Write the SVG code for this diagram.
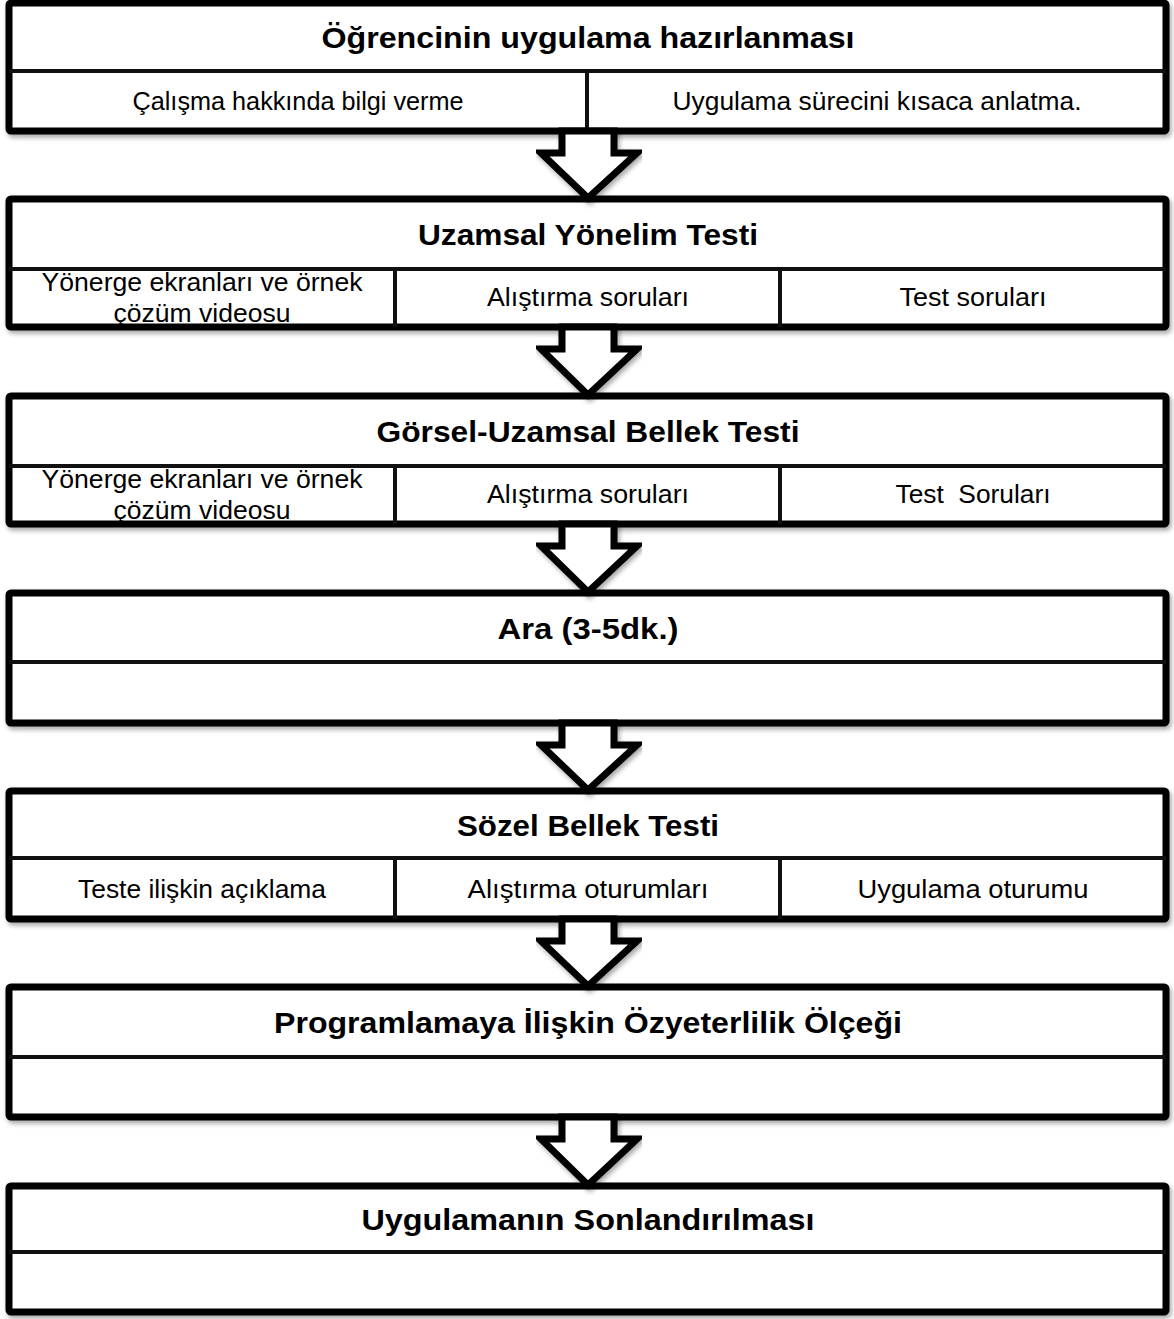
<svg xmlns="http://www.w3.org/2000/svg" width="1174" height="1319" viewBox="0 0 1174 1319">
<defs>
<filter id="sh" x="-5%" y="-5%" width="110%" height="120%">
<feDropShadow dx="2" dy="3" stdDeviation="2.5" flood-color="#000" flood-opacity="0.35"/>
</filter>
<style>
.box{fill:#fff;stroke:#000;stroke-width:7;stroke-linejoin:round;filter:url(#sh)}
.div{stroke:#111;stroke-width:4}
.arr{fill:#fff;stroke:#000;stroke-width:7;stroke-linejoin:miter;stroke-miterlimit:10;filter:url(#sh)}
.h{font-family:"Liberation Sans",Arial,sans-serif;font-weight:bold;font-size:30px;fill:#000;text-anchor:middle}
.t{font-family:"Liberation Sans",Arial,sans-serif;font-size:25px;fill:#000;text-anchor:middle}
</style>
</defs>
<rect width="1174" height="1319" fill="#fff"/>

<g id="n1">
<rect class="box" x="9" y="3" width="1157" height="128" rx="2"/>
<line class="div" x1="9" y1="71" x2="1166" y2="71"/>
<line class="div" x1="587" y1="71" x2="587" y2="131"/>
<text class="h" x="588" y="48" textLength="533" lengthAdjust="spacingAndGlyphs">Öğrencinin uygulama hazırlanması</text>
<text class="t" x="298" y="110" textLength="331" lengthAdjust="spacingAndGlyphs">Çalışma hakkında bilgi verme</text>
<text class="t" x="877" y="110" textLength="409" lengthAdjust="spacingAndGlyphs">Uygulama sürecini kısaca anlatma.</text>
</g>

<g id="n2">
<rect class="box" x="9" y="199" width="1157" height="128" rx="2"/>
<line class="div" x1="9" y1="269" x2="1166" y2="269"/>
<line class="div" x1="395" y1="269" x2="395" y2="327"/>
<line class="div" x1="780" y1="269" x2="780" y2="327"/>
<text class="h" x="588" y="245" textLength="340" lengthAdjust="spacingAndGlyphs">Uzamsal Yönelim Testi</text>
<text class="t" x="202" y="291" textLength="321" lengthAdjust="spacingAndGlyphs">Yönerge ekranları ve örnek</text>
<text class="t" x="202" y="322" textLength="177" lengthAdjust="spacingAndGlyphs">çözüm videosu</text>
<text class="t" x="588" y="306" textLength="202" lengthAdjust="spacingAndGlyphs">Alıştırma soruları</text>
<text class="t" x="973" y="306" textLength="147" lengthAdjust="spacingAndGlyphs">Test soruları</text>
</g>

<g id="n3">
<rect class="box" x="9" y="396" width="1157" height="128" rx="2"/>
<line class="div" x1="9" y1="466" x2="1166" y2="466"/>
<line class="div" x1="395" y1="466" x2="395" y2="524"/>
<line class="div" x1="780" y1="466" x2="780" y2="524"/>
<text class="h" x="588" y="442" textLength="423" lengthAdjust="spacingAndGlyphs">Görsel-Uzamsal Bellek Testi</text>
<text class="t" x="202" y="488" textLength="321" lengthAdjust="spacingAndGlyphs">Yönerge ekranları ve örnek</text>
<text class="t" x="202" y="519" textLength="177" lengthAdjust="spacingAndGlyphs">çözüm videosu</text>
<text class="t" x="588" y="503" textLength="202" lengthAdjust="spacingAndGlyphs">Alıştırma soruları</text>
<text class="t" x="973" y="503" textLength="155" lengthAdjust="spacingAndGlyphs" xml:space="preserve">Test  Soruları</text>
</g>

<g id="n4">
<rect class="box" x="9" y="593" width="1157" height="130" rx="2"/>
<line class="div" x1="9" y1="662" x2="1166" y2="662"/>
<text class="h" x="588" y="639" textLength="181" lengthAdjust="spacingAndGlyphs">Ara (3-5dk.)</text>
</g>

<g id="n5">
<rect class="box" x="9" y="791" width="1157" height="128" rx="2"/>
<line class="div" x1="9" y1="858" x2="1166" y2="858"/>
<line class="div" x1="395" y1="858" x2="395" y2="919"/>
<line class="div" x1="780" y1="858" x2="780" y2="919"/>
<text class="h" x="588" y="836" textLength="262" lengthAdjust="spacingAndGlyphs">Sözel Bellek Testi</text>
<text class="t" x="202" y="898" textLength="248" lengthAdjust="spacingAndGlyphs">Teste ilişkin açıklama</text>
<text class="t" x="588" y="898" textLength="241" lengthAdjust="spacingAndGlyphs">Alıştırma oturumları</text>
<text class="t" x="973" y="898" textLength="231" lengthAdjust="spacingAndGlyphs">Uygulama oturumu</text>
</g>

<g id="n6">
<rect class="box" x="9" y="987" width="1157" height="130" rx="2"/>
<line class="div" x1="9" y1="1057" x2="1166" y2="1057"/>
<text class="h" x="588" y="1033" textLength="628" lengthAdjust="spacingAndGlyphs">Programlamaya İlişkin Özyeterlilik Ölçeği</text>
</g>

<g id="n7">
<rect class="box" x="9" y="1186" width="1157" height="126" rx="2"/>
<line class="div" x1="9" y1="1252" x2="1166" y2="1252"/>
<text class="h" x="588" y="1230" textLength="453" lengthAdjust="spacingAndGlyphs">Uygulamanın Sonlandırılması</text>
</g>

<g id="connectors">
<polygon class="arr" points="562,131 562,153 541,153 588,198 637,153 614,153 614,131"/>
<polygon class="arr" points="562,327 562,349 541,349 588,395 637,349 614,349 614,327"/>
<polygon class="arr" points="562,524 562,546 541,546 588,592 637,546 614,546 614,524"/>
<polygon class="arr" points="562,723 562,745 541,745 588,790 637,745 614,745 614,723"/>
<polygon class="arr" points="562,919 562,941 541,941 588,986 637,941 614,941 614,919"/>
<polygon class="arr" points="562,1117 562,1139 541,1139 588,1185 637,1139 614,1139 614,1117"/>
</g>
</svg>
